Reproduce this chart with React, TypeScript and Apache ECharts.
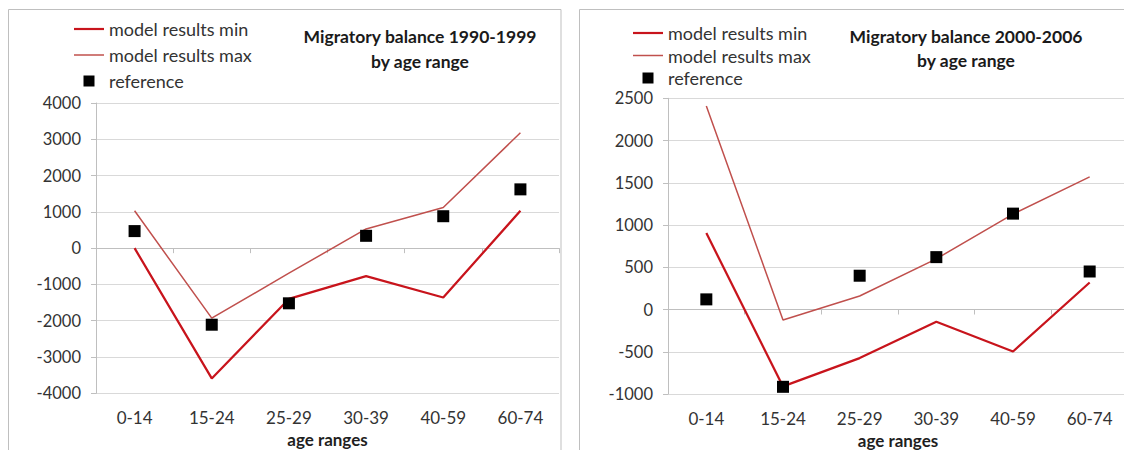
import React, { useEffect, useRef } from 'react';
import * as echarts from 'echarts';

const categories = ['0-14', '15-24', '25-29', '30-39', '40-59', '60-74'];

// Panel 1: 1990-1999
const min9099 = [0, -3590, -1400, -770, -1360, 1030];
const max9099 = [1030, -1930, -690, 530, 1120, 3180];
const ref9099 = [470, -2110, -1520, 340, 880, 1620];

// Panel 2: 2000-2006
const min0006 = [905, -910, -575, -145, -497, 320];
const max0006 = [2410, -125, 160, 600, 1130, 1570];
const ref0006 = [120, -915, 400, 620, 1135, 450];

const yTicks1 = { min: -4000, max: 4000, interval: 1000 };
const yTicks2 = { min: -1000, max: 2500, interval: 500 };

const titles = ['Migratory balance 1990-1999\nby age range', 'Migratory balance 2000-2006\nby age range'];
const seriesNames = ['model results min', 'model results max', 'reference'];

const FONT = 'Lato, "Open Sans", sans-serif';
const TEXT = '#333333';
const GRID_LINE = '#D9D9D9';
const AXIS_LINE = '#BFBFBF';
const MIN_COLOR = '#C8141C';
const MAX_COLOR = '#C0504D';

export default function App() {
  const ref = useRef<HTMLDivElement>(null);
  useEffect(() => {
    document.body.style.margin = '0';
    const chart = echarts.init(ref.current!, null, { renderer: 'svg' });

    const grids = [
      { left: 96, top: 103, width: 463, height: 290.3, outerBoundsMode: 'none' },
      { left: 668, top: 98.3, width: 460, height: 295.7, outerBoundsMode: 'none' },
    ];
    const yTicks = [yTicks1, yTicks2];
    const data = [
      [min9099, max9099, ref9099],
      [min0006, max0006, ref0006],
    ];

    const xAxis: any[] = [];
    const yAxis: any[] = [];
    const series: any[] = [];
    const legend: any[] = [];

    [0, 1].forEach((i) => {
      xAxis.push({
        gridIndex: i,
        type: 'category',
        data: categories,
        position: 'bottom',
        boundaryGap: true,
        axisLine: { onZero: true, lineStyle: { color: AXIS_LINE, width: 1 } },
        axisTick: { show: true, length: 5, lineStyle: { color: AXIS_LINE } },
        axisLabel: { show: false },
        splitLine: { show: false },
      });
      xAxis.push({
        gridIndex: i,
        type: 'category',
        data: categories,
        position: 'bottom',
        boundaryGap: true,
        axisLine: { show: false, onZero: false },
        axisTick: { show: false },
        axisLabel: { show: true, margin: 16, fontSize: 17, color: TEXT, fontFamily: FONT },
        splitLine: { show: false },
        name: 'age ranges',
        nameLocation: 'middle',
        nameGap: 38,
        nameTextStyle: { fontSize: 17, fontWeight: 'bold', color: '#1f1f1f', fontFamily: FONT },
      });
      yAxis.push({
        gridIndex: i,
        type: 'value',
        min: yTicks[i].min,
        max: yTicks[i].max,
        interval: yTicks[i].interval,
        axisLine: { show: true, lineStyle: { color: AXIS_LINE } },
        axisTick: { show: true, length: 5, lineStyle: { color: AXIS_LINE } },
        axisLabel: {
          margin: 15,
          fontSize: 16.5,
          color: TEXT,
          fontFamily: FONT,
          formatter: (v: number) => String(v),
        },
        splitLine: { show: true, lineStyle: { color: GRID_LINE, width: 1 } },
      });
      series.push({
        name: seriesNames[0],
        type: 'line',
        xAxisIndex: 2 * i,
        yAxisIndex: i,
        data: data[i][0],
        symbol: 'none',
        lineStyle: { color: MIN_COLOR, width: 2.25 },
        itemStyle: { color: MIN_COLOR },
        z: 3,
      });
      series.push({
        name: seriesNames[1],
        type: 'line',
        xAxisIndex: 2 * i,
        yAxisIndex: i,
        data: data[i][1],
        symbol: 'none',
        lineStyle: { color: MAX_COLOR, width: 1.5 },
        itemStyle: { color: MAX_COLOR },
        z: 3,
      });
      series.push({
        name: seriesNames[2],
        type: 'scatter',
        xAxisIndex: 2 * i,
        yAxisIndex: i,
        data: data[i][2],
        symbol: 'rect',
        symbolSize: 12,
        itemStyle: { color: '#000000', opacity: 1 },
        z: 4,
      });
    });

    const legendData = [
      { name: seriesNames[0], icon: 'path://M0,0H30V2.2H0Z', itemStyle: { color: MIN_COLOR } },
      { name: seriesNames[1], icon: 'path://M0,0H30V1.5H0Z', itemStyle: { color: MAX_COLOR } },
      { name: seriesNames[2], icon: 'path://M0,0H10V10H0Z', itemStyle: { color: '#000000', opacity: 1 } },
    ];

    legend.push({
      orient: 'vertical',
      left: 74,
      top: 20,
      padding: 0,
      itemWidth: 30,
      itemHeight: 11,
      itemGap: 8,
      selectedMode: false,
      data: legendData,
      textStyle: { fontSize: 18, color: TEXT, fontFamily: FONT, lineHeight: 18 },
    });
    legend.push({
      orient: 'vertical',
      left: 633,
      top: 24,
      padding: 0,
      itemWidth: 30,
      itemHeight: 11,
      itemGap: 4.5,
      selectedMode: false,
      data: legendData,
      textStyle: { fontSize: 18, color: TEXT, fontFamily: FONT, lineHeight: 18 },
    });

    chart.setOption({
      animation: false,
      backgroundColor: '#ffffff',
      grid: grids,
      xAxis,
      yAxis,
      series,
      legend,
      graphic: [
        {
          type: 'rect',
          shape: { x: 8.5, y: 9.5, width: 552.5, height: 470 },
          style: { fill: 'none', stroke: AXIS_LINE, lineWidth: 1 },
          silent: true,
          z: 0,
        },
        {
          type: 'rect',
          shape: { x: 579.5, y: 9.5, width: 560, height: 470 },
          style: { fill: 'none', stroke: AXIS_LINE, lineWidth: 1 },
          silent: true,
          z: 0,
        },
        {
          type: 'text',
          x: 420,
          y: 24,
          style: {
            text: titles[0],
            textAlign: 'center',
            textVerticalAlign: 'top',
            font: 'bold 17.5px ' + FONT,
            lineHeight: 25,
            fill: '#1a1a1a',
          },
        },
        {
          type: 'text',
          x: 966,
          y: 24,
          style: {
            text: titles[1],
            textAlign: 'center',
            textVerticalAlign: 'top',
            font: 'bold 17.5px ' + FONT,
            lineHeight: 24,
            fill: '#1a1a1a',
          },
        },
      ],
    });

    return () => chart.dispose();
  }, []);
  return <div ref={ref} style={{ width: 1124, height: 450 }} />;
}
